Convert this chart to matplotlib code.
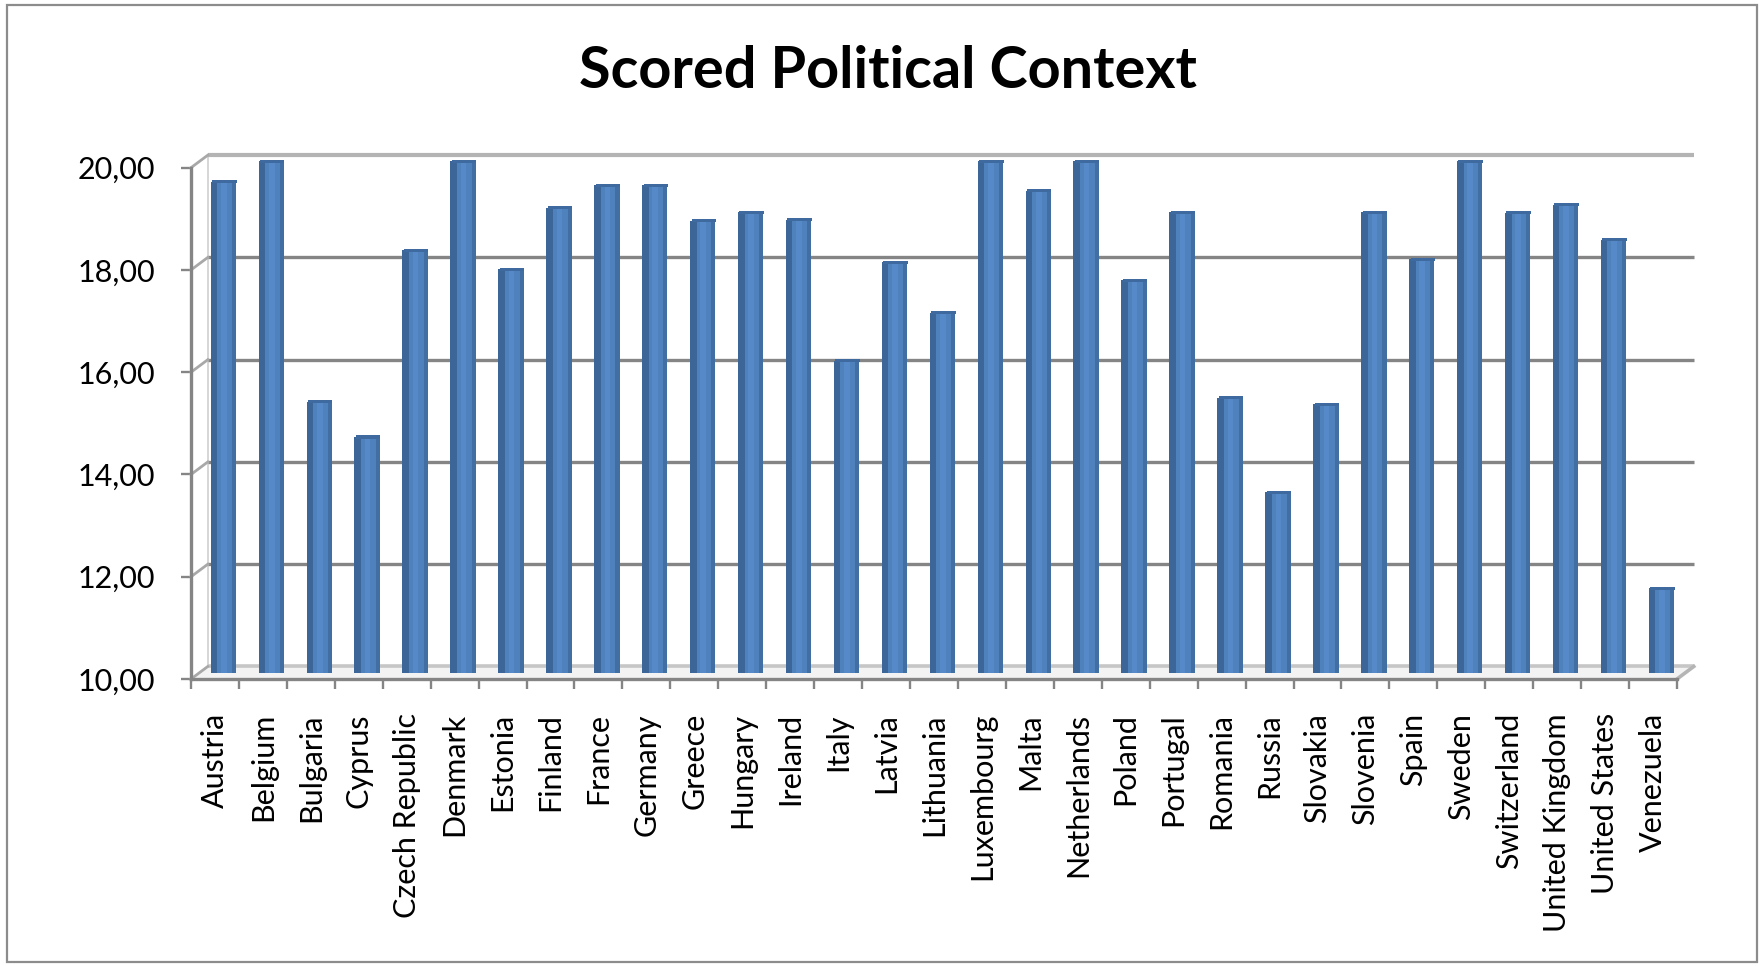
import matplotlib
matplotlib.use('Agg')
import matplotlib.pyplot as plt
from matplotlib.patches import Rectangle, Polygon

# ---------------- data ----------------
countries = ["Austria", "Belgium", "Bulgaria", "Cyprus", "Czech Republic", "Denmark",
             "Estonia", "Finland", "France", "Germany", "Greece", "Hungary", "Ireland",
             "Italy", "Latvia", "Lithuania", "Luxembourg", "Malta", "Netherlands",
             "Poland", "Portugal", "Romania", "Russia", "Slovakia", "Slovenia", "Spain",
             "Sweden", "Switzerland", "United Kingdom", "United States", "Venezuela"]
scores = [19.60, 20.00, 15.30, 14.61, 18.26, 20.00,
          17.89, 19.09, 19.53, 19.53, 18.84, 19.01, 18.86,
          16.10, 18.03, 17.04, 20.00, 19.43, 20.00,
          17.68, 19.01, 15.38, 13.53, 15.25, 19.01, 18.09,
          20.00, 19.00, 19.15, 18.47, 11.65]
y_ticks = [10, 12, 14, 16, 18, 20]
title = "Scored Political Context"

# ---------------- layout ----------------
W, H = 1760, 966
fig = plt.figure(figsize=(W / 100, H / 100), dpi=100)
fig.patch.set_facecolor('white')
ax = fig.add_axes([191 / W, 1 - 679 / H, 1486 / W, (679 - 167.7) / H])
n = len(countries)
ax.set_xlim(0, n)
ax.set_ylim(y_ticks[0], y_ticks[-1])
ax.set_facecolor('none')
for s in ax.spines.values():
    s.set_visible(False)

DX, DY = 0.35, 0.245          # 3-D depth offset (category units, value units)
GRID = '#858585'
y0, y1 = y_ticks[0], y_ticks[-1]

# floor
ax.add_patch(Polygon([(0, y0), (n, y0), (n + DX, y0 + DY), (DX, y0 + DY)],
                     closed=True, facecolor='#f3f3f3', edgecolor='none',
                     clip_on=False, zorder=1))
ax.plot([DX, n + DX], [y0 + DY, y0 + DY], color='#c6c6c6', lw=2.6,
        clip_on=False, zorder=1.5, solid_capstyle='butt')
ax.plot([n, n + DX], [y0, y0 + DY], color='#b5b5b5', lw=2.6,
        clip_on=False, zorder=1.5)

# back wall gridlines + side-wall connectors
for v in y_ticks[1:]:
    col = '#b4b4b4' if v == y1 else GRID
    lw = 3.0 if v == y1 else 2.4
    ax.plot([DX, n + DX], [v + DY, v + DY], color=col, lw=lw,
            clip_on=False, zorder=1.5, solid_capstyle='butt')
for v in y_ticks:
    ax.plot([0, DX], [v, v + DY], color='#a8a8a8', lw=2.0,
            clip_on=False, zorder=1.6)
ax.plot([DX, DX], [y0 + DY, y1 + DY], color='#d0d0d0', lw=1.2,
        clip_on=False, zorder=1.4)

# front axes lines
ax.plot([0, 0], [y0, y1], color=GRID, lw=2.4, clip_on=False, zorder=2)
ax.plot([0, n], [y0, y0], color=GRID, lw=2.4, clip_on=False, zorder=2)

# bars (3-D look via shading strips)
w = 0.53
xs = [i + 0.5 + DX / 2 for i in range(n)]
heights = [s - y0 for s in scores]
base = y0 + DY / 2
ax.bar(xs, heights, width=w, bottom=base, color='#4f81bd', edgecolor='none',
       zorder=3, clip_on=False)
ax.bar([x - w / 2 + w * 0.13 for x in xs], heights, width=w * 0.26, bottom=base,
       color='#3c6697', edgecolor='none', zorder=3.1, clip_on=False)
ax.bar([x + w / 2 - w * 0.08 for x in xs], heights, width=w * 0.16, bottom=base,
       color='#416ea3', edgecolor='none', zorder=3.1, clip_on=False)
ax.bar([x + w * 0.02 for x in xs], heights, width=w * 0.22, bottom=base,
       color='#5589c8', edgecolor='none', zorder=3.1, clip_on=False)
# top caps
ax.bar([x + DX * 0.06 for x in xs], [0.06] * n, width=w * 0.96,
       bottom=[s + DY / 2 - 0.03 for s in scores],
       color='#3f6aa0', edgecolor='none', zorder=3.2, clip_on=False)

# ticks and labels
FONT = 'Lato'
ax.set_yticks(y_ticks)
ax.set_yticklabels([f"{v:.2f}".replace('.', ',') for v in y_ticks],
                   fontsize=22, family=FONT, color='black')
ax.tick_params(axis='y', direction='out', length=7.2, width=1.7, colors=GRID,
               labelcolor='black', pad=18.5)
ax.set_xticks(range(n + 1))
ax.set_xticklabels([])
ax.tick_params(axis='x', which='major', direction='out', length=7.2, width=1.7,
               colors=GRID)
ax.set_xticks([i + 0.5 for i in range(n)], minor=True)
ax.set_xticklabels(countries, minor=True, rotation=90, fontsize=22, family=FONT,
                   color='black')
ax.tick_params(axis='x', which='minor', length=0, pad=24.5, labelcolor='black')

# title
fig.text(887.5 / W, 1 - 88.3 / H, title, ha='center', va='baseline',
         fontsize=41.5, fontweight='bold', family=FONT, color='black')

# chart border
fig.patches.append(Rectangle((7 / W, 4 / H), (1757 - 7) / W, (962 - 5) / H,
                             transform=fig.transFigure, fill=False,
                             edgecolor='#8c8c8c', lw=1.6))

fig.savefig('out.png', dpi=100, facecolor='white')
